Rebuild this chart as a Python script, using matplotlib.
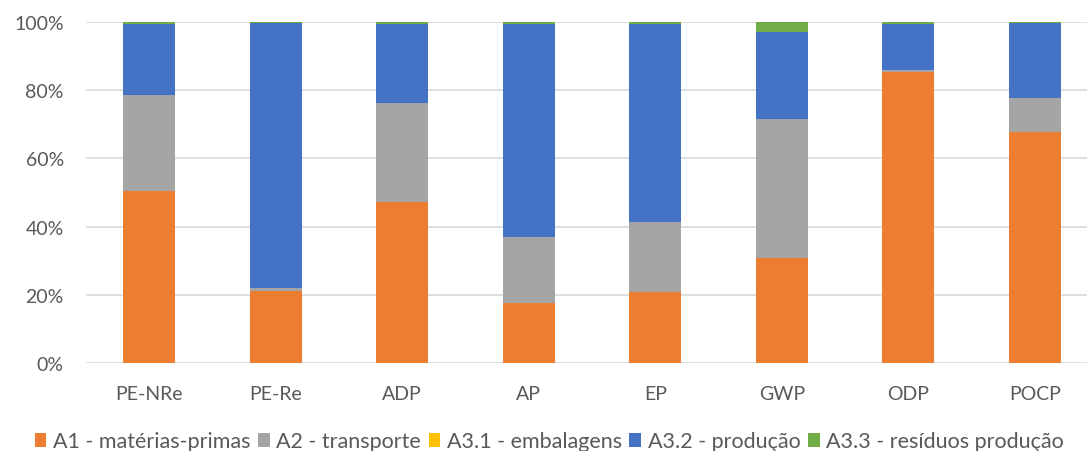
import matplotlib
matplotlib.use('Agg')
import matplotlib.pyplot as plt
import numpy as np
from matplotlib.ticker import PercentFormatter

plt.rcParams['font.family'] = ['Lato', 'DejaVu Sans']

# impact categories and stage shares (%)
categories = ['PE-NRe', 'PE-Re', 'ADP', 'AP', 'EP', 'GWP', 'ODP', 'POCP']
a1_materias = [50.4, 21.0, 47.1, 17.6, 20.9, 30.7, 85.4, 67.7]
a2_transporte = [28.3, 0.9, 29.1, 19.3, 20.5, 40.9, 0.6, 9.9]
a31_embalagens = [0.0, 0.0, 0.0, 0.0, 0.0, 0.0, 0.0, 0.0]
a32_producao = [20.6, 77.8, 23.2, 62.5, 57.9, 25.4, 13.3, 22.1]
a33_residuos = [0.7, 0.3, 0.6, 0.6, 0.7, 3.0, 0.7, 0.3]

series = [
    ('A1 - matérias-primas', a1_materias, '#ED7D31'),
    ('A2 - transporte', a2_transporte, '#A5A5A5'),
    ('A3.1 - embalagens', a31_embalagens, '#FFC000'),
    ('A3.2 - produção', a32_producao, '#4472C4'),
    ('A3.3 - resíduos produção', a33_residuos, '#70AD47'),
]

fig = plt.figure(figsize=(10.87, 4.52), dpi=100)
ax = fig.add_axes([86 / 1087, 88 / 452, 1012 / 1087, 341 / 452])

x = np.arange(len(categories))
bottom = np.zeros(len(categories))
for label, vals, color in series:
    vals = np.array(vals)
    ax.bar(x, vals, 0.41, bottom=bottom, color=color, label=label, zorder=3)
    bottom += vals

ax.set_xlim(-0.5, len(categories) - 0.5)
ax.set_ylim(0, 100)
ax.set_yticks(np.arange(0, 101, 20))
ax.yaxis.set_major_formatter(PercentFormatter(decimals=0))
ax.set_xticks(x)
ax.set_xticklabels(categories)
ax.grid(axis='y', color='#D9D9D9', linewidth=1.2, zorder=0)
for s in ax.spines.values():
    s.set_visible(False)
ax.tick_params(axis='both', length=0, labelsize=14, labelcolor='#595959')
ax.tick_params(axis='x', pad=16)
ax.tick_params(axis='y', pad=16)

fig.legend(loc='lower left', bbox_to_anchor=(26 / 1087, -9 / 452), ncol=5,
           frameon=False, fontsize=15.5, labelcolor='#595959',
           handlelength=0.55, handleheight=0.6, handletextpad=0.3,
           columnspacing=0.35, borderaxespad=0)

fig.savefig('out.png', dpi=100)
